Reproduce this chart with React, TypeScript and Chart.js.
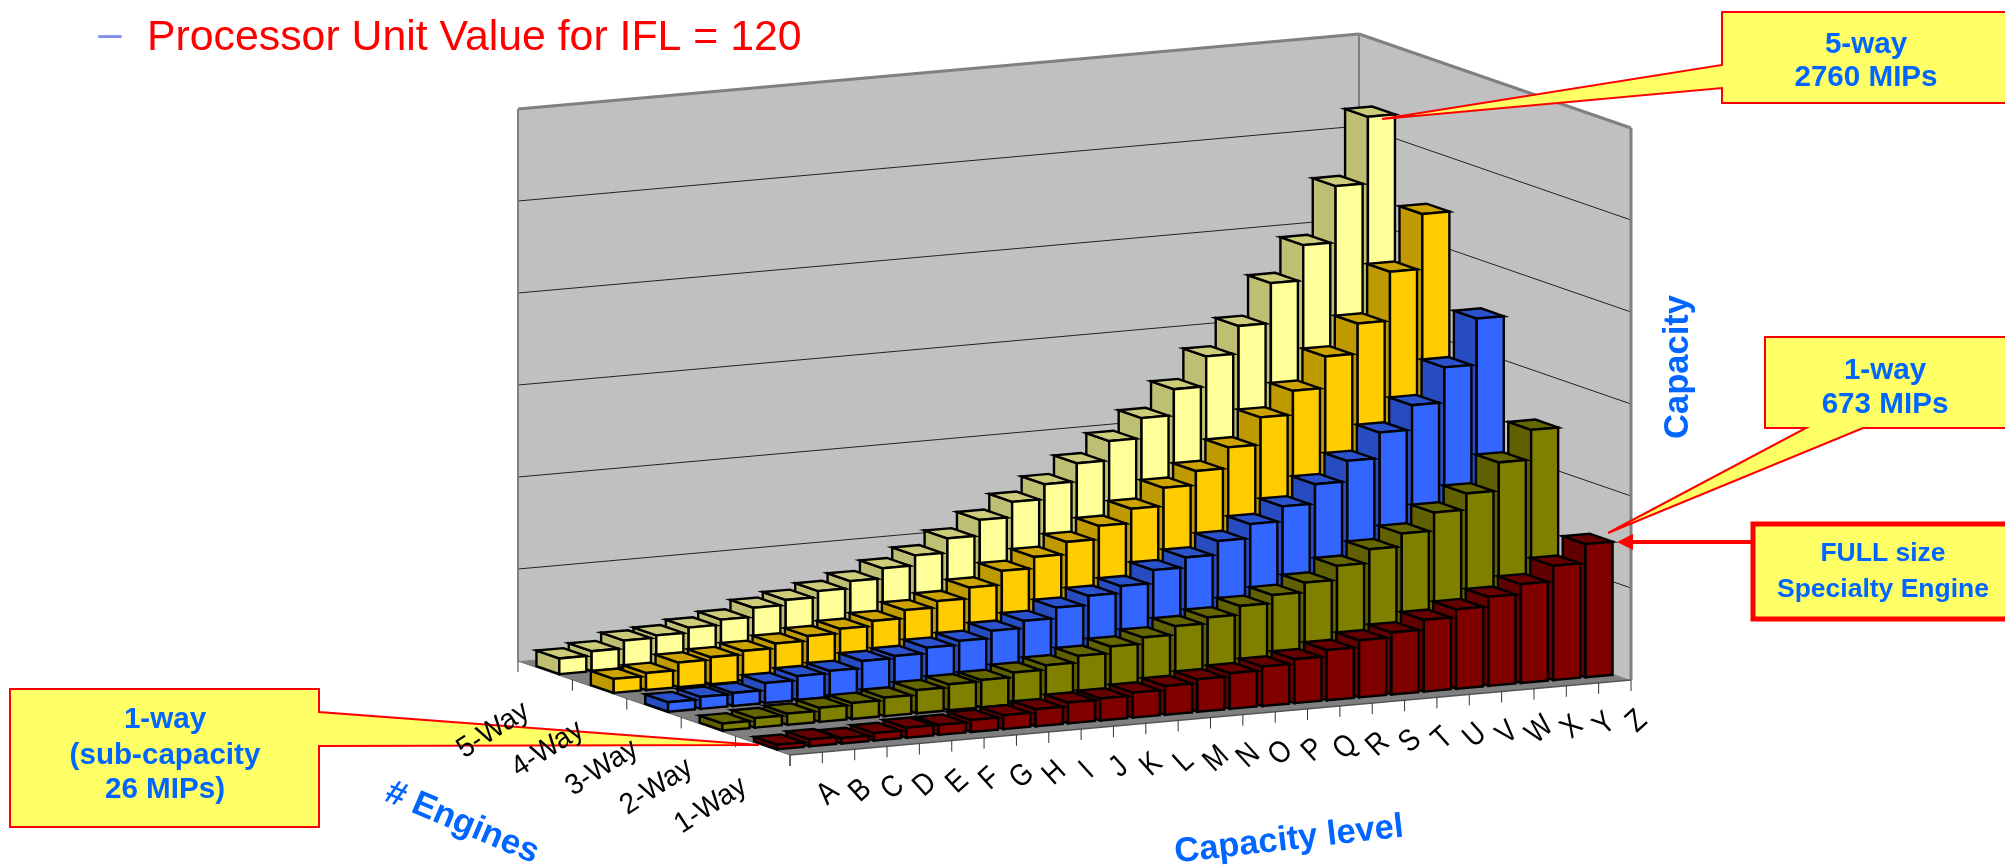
import { useEffect, useRef } from 'react';
import { Chart, BarController, BarElement, CategoryScale, LinearScale } from 'chart.js';

Chart.register(BarController, BarElement, CategoryScale, LinearScale);

const capacityLevels = ['A','B','C','D','E','F','G','H','I','J','K','L','M','N','O','P','Q','R','S','T','U','V','W','X','Y','Z'];
const engineRows = ['1-Way','2-Way','3-Way','4-Way','5-Way'];

const oneWay = [26,40,31,43,57,57,68,79,97,118,125,142,163,185,203,225,250,286,325,353,408,452,506,562,650,757];
const twoWay = [40,54,63,80,91,105,131,148,156,182,207,244,281,316,364,397,446,492,546,625,703,776,879,971,1131,1300];
const threeWay = [54,68,74,114,137,150,190,202,233,255,296,336,395,446,485,559,615,692,772,856,966,1082,1227,1366,1565,1826];
const fourWay = [80,97,140,154,173,199,225,250,278,323,358,419,497,560,629,704,785,888,967,1085,1239,1374,1553,1724,2002,2314];
const fiveWay = [89,114,158,171,199,228,279,307,341,381,438,495,575,664,750,834,937,1047,1161,1309,1479,1636,1863,2063,2382,2760];

const seriesValues = [oneWay, twoWay, threeWay, fourWay, fiveWay];

const frontColors = ['#800000', '#808000', '#3366FF', '#FFCC00', '#FFFF99'];
const sideColors = ['#600000', '#606000', '#264CBF', '#BF9900', '#BFBF73'];
const topColors = ['#660000', '#666600', '#2952CC', '#CCA300', '#CCCC7A'];

const axisMax = 3140;
const gridSteps = 6;

// Oblique projection of the chart area: the category axis rises to the right, depth runs to the back-left.
const SKEW = -75 / 841;
const DEPTH_X = -272;
const DEPTH_Y = -94;
const BAR_HALF_DEPTH = 0.042;

const FONT = '"Liberation Sans", Arial, sans-serif';
const BLUE = '#0066FF';

function poly(ctx: CanvasRenderingContext2D, pts: number[][], fill?: string, stroke?: string, lw = 1) {
  ctx.beginPath();
  pts.forEach((p, i) => (i ? ctx.lineTo(p[0], p[1]) : ctx.moveTo(p[0], p[1])));
  ctx.closePath();
  if (fill) { ctx.fillStyle = fill; ctx.fill(); }
  if (stroke) { ctx.strokeStyle = stroke; ctx.lineWidth = lw; ctx.lineJoin = 'miter'; ctx.stroke(); }
}

function line(ctx: CanvasRenderingContext2D, a: number[], b: number[], color: string, lw = 1) {
  ctx.beginPath();
  ctx.moveTo(a[0], a[1]);
  ctx.lineTo(b[0], b[1]);
  ctx.strokeStyle = color;
  ctx.lineWidth = lw;
  ctx.stroke();
}

function text(ctx: CanvasRenderingContext2D, s: string, x: number, y: number, font: string, color: string, angle = 0, sx = 1) {
  ctx.save();
  ctx.translate(x, y);
  ctx.rotate((angle * Math.PI) / 180);
  ctx.scale(sx, 1);
  ctx.font = font;
  ctx.fillStyle = color;
  ctx.textAlign = 'center';
  ctx.textBaseline = 'middle';
  ctx.fillText(s, 0, 0);
  ctx.restore();
}

const project = (chart: any) => (x: number, y: number, depth: number) => {
  const area = chart.chartArea;
  return [x + depth * DEPTH_X, y + (x - area.left) * SKEW + depth * DEPTH_Y];
};

const scene = {
  id: 'scene3d',
  beforeDatasetsDraw(chart: any) {
    const { ctx, chartArea: a, scales } = chart;
    const P = project(chart);
    const backWall = [P(a.left, a.top, 1), P(a.right, a.top, 1), P(a.right, a.bottom, 1), P(a.left, a.bottom, 1)];
    const sideWall = [P(a.right, a.top, 1), P(a.right, a.top, 0), P(a.right, a.bottom, 0), P(a.right, a.bottom, 1)];
    const floor = [P(a.left, a.bottom, 0), P(a.right, a.bottom, 0), P(a.right, a.bottom, 1), P(a.left, a.bottom, 1)];
    poly(ctx, backWall, '#C0C0C0');
    poly(ctx, sideWall, '#C0C0C0');
    scales.y.ticks.forEach((t: any) => {
      const y = scales.y.getPixelForValue(t.value);
      if (t.value > 0 && t.value < axisMax - 1) {
        line(ctx, P(a.left, y, 1), P(a.right, y, 1), '#222', 1);
        line(ctx, P(a.right, y, 1), P(a.right, y, 0), '#222', 1);
      }
    });
    poly(ctx, floor, '#808080');
    // wall outlines
    line(ctx, backWall[0], backWall[1], '#808080', 3);
    line(ctx, sideWall[0], sideWall[1], '#808080', 3);
    line(ctx, backWall[3], backWall[0], '#808080', 2);
    line(ctx, sideWall[0], backWall[2], '#808080', 2);
    line(ctx, sideWall[1], sideWall[2], '#808080', 3);
    line(ctx, floor[0], floor[1], '#555', 1.5);
    line(ctx, floor[0], floor[3], '#666', 1);
    // tick marks
    const step = a.width / capacityLevels.length;
    for (let i = 0; i <= capacityLevels.length; i++) {
      const p = P(a.left + i * step, a.bottom, 0);
      line(ctx, p, [p[0], p[1] + 11], '#333', 1);
    }
    for (let i = 0; i <= engineRows.length; i++) {
      const p = P(a.left, a.bottom, i / engineRows.length);
      line(ctx, p, [p[0], p[1] + 11], '#333', 1);
    }
  },
  beforeDatasetDraw(chart: any, args: any) {
    const { ctx, scales } = chart;
    const P = project(chart);
    const r = args.index;
    const centre = (scales.z.getPixelForValue(r) - scales.z.left) / scales.z.width;
    const dF = centre - BAR_HALF_DEPTH;
    const dB = centre + BAR_HALF_DEPTH;
    const els = args.meta.data;
    for (let i = els.length - 1; i >= 0; i--) {
      const { x, y, base, width } = els[i].getProps(['x', 'y', 'base', 'width'], true);
      const l = x - width / 2;
      const rt = x + width / 2;
      poly(ctx, [P(l, base, dB), P(l, base, dF), P(l, y, dF), P(l, y, dB)], sideColors[r], '#000', 2.4);
      poly(ctx, [P(l, y, dF), P(rt, y, dF), P(rt, y, dB), P(l, y, dB)], topColors[r], '#000', 2.4);
      poly(ctx, [P(l, base, dF), P(rt, base, dF), P(rt, y, dF), P(l, y, dF)], frontColors[r], '#000', 2.4);
    }
    return false;
  },
  afterDatasetsDraw(chart: any) {
    const { ctx, chartArea: a, scales } = chart;
    const P = project(chart);
    const bold29 = `bold 29.6px ${FONT}`;
    const bold26 = `bold 26.5px ${FONT}`;
    const Y = '#FFFF66';
    const R = '#FF0000';

    // heading
    text(ctx, '\u2013', 110, 35, `42px ${FONT}`, '#7F8FEF');
    ctx.save();
    ctx.font = `42.8px ${FONT}`;
    ctx.fillStyle = '#FF0000';
    ctx.textAlign = 'left';
    ctx.textBaseline = 'alphabetic';
    ctx.fillText('Processor Unit Value for IFL = 120', 147, 50);
    ctx.restore();

    // callouts
    poly(ctx, [[1722,12],[2012,12],[2012,103],[1722,103],[1722,88],[1382,119],[1722,65]], Y, R, 2);
    text(ctx, '5-way', 1866, 45, bold29, BLUE);
    text(ctx, '2760 MIPs', 1866, 78, bold29, BLUE);

    poly(ctx, [[1765,337],[2012,337],[2012,428],[1863,428],[1608,533],[1806,428],[1765,428]], Y, R, 2);
    text(ctx, '1-way', 1885, 371, bold29, BLUE);
    text(ctx, '673 MIPs', 1885, 405, bold29, BLUE);

    poly(ctx, [[10,689],[319,689],[319,712],[759,745],[319,746],[319,827],[10,827]], Y, R, 2);
    text(ctx, '1-way', 165, 720, bold29, BLUE);
    text(ctx, '(sub-capacity', 165, 756, bold29, BLUE);
    text(ctx, '26 MIPs)', 165, 790, bold29, BLUE);

    // full size box and arrow
    line(ctx, [1752, 542], [1630, 542], R, 4);
    poly(ctx, [[1617,542],[1633,534],[1633,550]], R);
    poly(ctx, [[1753,524],[2015,524],[2015,619],[1753,619]], Y, R, 5);
    text(ctx, 'FULL size', 1883, 554, bold26, BLUE);
    text(ctx, 'Specialty Engine', 1883, 590, bold26, BLUE);

    // axis titles
    text(ctx, 'Capacity', 1678, 367, `bold 34.5px ${FONT}`, BLUE, -90);
    text(ctx, 'Capacity level', 1289, 840, `bold 34.5px ${FONT}`, BLUE, -6.5);
    text(ctx, '# Engines', 462, 823, `bold 34.5px ${FONT}`, BLUE, 23);

    // category and row tick labels
    capacityLevels.forEach((c, i) => {
      const p = P(scales.x.getPixelForValue(i), a.bottom, 0);
      text(ctx, c, p[0] + 22, p[1] + 40, `31px ${FONT}`, '#000', -42, 0.85);
    });
    engineRows.forEach((c, i) => {
      const d = (scales.z.getPixelForValue(i) - scales.z.left) / scales.z.width;
      const p = P(a.left, a.bottom, d);
      text(ctx, c, p[0] - 52, p[1] + 60, `29px ${FONT}`, '#000', -33, 0.96);
    });
  },
};

export default function App() {
  const ref = useRef<HTMLCanvasElement>(null);
  useEffect(() => {
    const chart = new Chart(ref.current as HTMLCanvasElement, {
      type: 'bar',
      data: {
        labels: capacityLevels,
        datasets: engineRows.map((label, r) => ({
          label,
          data: seriesValues[r],
          backgroundColor: frontColors[r],
          grouped: false,
          barPercentage: 0.835,
          categoryPercentage: 1,
        })),
      },
      options: {
        responsive: false,
        animation: false,
        devicePixelRatio: 1,
        layout: { padding: { left: 790, right: 374, top: 203, bottom: 112 } },
        scales: {
          x: { type: 'category', display: false, offset: true },
          y: { type: 'linear', display: false, min: 0, max: axisMax, ticks: { stepSize: axisMax / gridSteps } },
          z: { type: 'category', axis: 'x', labels: engineRows, display: false, offset: true },
        },
      },
      plugins: [scene],
    } as any);
    return () => chart.destroy();
  }, []);
  return (
    <div style={{ position: 'fixed', left: 0, top: 0, width: 2005, height: 867, overflow: 'hidden', background: '#fff' }}>
      <canvas ref={ref} width={2005} height={867} style={{ display: 'block' }} />
    </div>
  );
}
